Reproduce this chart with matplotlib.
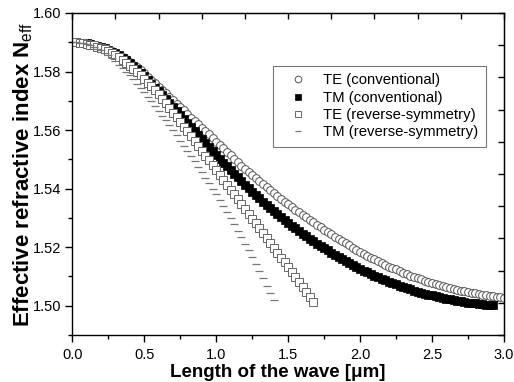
import numpy as np
import matplotlib
matplotlib.use("Agg")
import matplotlib.pyplot as plt
from matplotlib.ticker import MultipleLocator, FixedLocator, NullFormatter

plt.rcParams['font.family'] = ['Liberation Sans', 'DejaVu Sans']
plt.rcParams['mathtext.fontset'] = 'custom'
plt.rcParams['mathtext.rm'] = 'Liberation Sans'
plt.rcParams['mathtext.bf'] = 'Liberation Sans:bold'

x_step = 0.025

te_conv = [
    1.5900, 1.5900, 1.5899, 1.5898, 1.5896, 1.5894, 1.5891, 1.5888, 1.5885, 1.5880,
    1.5875, 1.5870, 1.5864, 1.5857, 1.5850, 1.5842, 1.5834, 1.5824, 1.5814, 1.5804,
    1.5794, 1.5783, 1.5771, 1.5760, 1.5748, 1.5737, 1.5725, 1.5714, 1.5702, 1.5690,
    1.5679, 1.5667, 1.5655, 1.5643, 1.5632, 1.5620, 1.5608, 1.5596, 1.5585, 1.5573,
    1.5561, 1.5549, 1.5538, 1.5526, 1.5514, 1.5502, 1.5491, 1.5479, 1.5468, 1.5457,
    1.5446, 1.5436, 1.5425, 1.5415, 1.5404, 1.5394, 1.5384, 1.5374, 1.5365, 1.5355,
    1.5346, 1.5337, 1.5328, 1.5319, 1.5310, 1.5302, 1.5293, 1.5285, 1.5276, 1.5268,
    1.5260, 1.5252, 1.5244, 1.5236, 1.5228, 1.5221, 1.5213, 1.5206, 1.5198, 1.5191,
    1.5184, 1.5177, 1.5171, 1.5164, 1.5158, 1.5152, 1.5146, 1.5140, 1.5134, 1.5129,
    1.5124, 1.5118, 1.5113, 1.5108, 1.5103, 1.5099, 1.5094, 1.5090, 1.5086, 1.5082,
    1.5078, 1.5074, 1.5071, 1.5067, 1.5064, 1.5061, 1.5058, 1.5055, 1.5052, 1.5049,
    1.5047, 1.5044, 1.5042, 1.5040, 1.5037, 1.5035, 1.5033, 1.5032, 1.5030, 1.5029,
    1.5028,
]

tm_conv = [
    1.5900, 1.5900, 1.5899, 1.5898, 1.5896, 1.5894, 1.5891, 1.5888, 1.5884, 1.5879,
    1.5874, 1.5868, 1.5862, 1.5855, 1.5847, 1.5839, 1.5830, 1.5819, 1.5808, 1.5796,
    1.5784, 1.5771, 1.5758, 1.5745, 1.5732, 1.5719, 1.5705, 1.5692, 1.5678, 1.5664,
    1.5651, 1.5637, 1.5623, 1.5609, 1.5596, 1.5582, 1.5568, 1.5555, 1.5541, 1.5528,
    1.5515, 1.5502, 1.5489, 1.5477, 1.5464, 1.5451, 1.5439, 1.5426, 1.5414, 1.5402,
    1.5390, 1.5379, 1.5367, 1.5356, 1.5345, 1.5334, 1.5323, 1.5313, 1.5303, 1.5293,
    1.5283, 1.5274, 1.5264, 1.5255, 1.5246, 1.5237, 1.5229, 1.5220, 1.5212, 1.5204,
    1.5196, 1.5189, 1.5181, 1.5174, 1.5166, 1.5159, 1.5152, 1.5145, 1.5139, 1.5132,
    1.5126, 1.5120, 1.5114, 1.5109, 1.5103, 1.5098, 1.5092, 1.5087, 1.5082, 1.5077,
    1.5073, 1.5068, 1.5064, 1.5060, 1.5056, 1.5052, 1.5048, 1.5045, 1.5041, 1.5038,
    1.5035, 1.5032, 1.5029, 1.5027, 1.5024, 1.5022, 1.5019, 1.5017, 1.5015, 1.5013,
    1.5011, 1.5010, 1.5008, 1.5006, 1.5005, 1.5003, 1.5002, 1.5001,
]

te_rev = [
    1.5900, 1.5900, 1.5899, 1.5897, 1.5895, 1.5892, 1.5889, 1.5885, 1.5881, 1.5876,
    1.5870, 1.5863, 1.5856, 1.5848, 1.5839, 1.5830, 1.5820, 1.5809, 1.5798, 1.5787,
    1.5775, 1.5762, 1.5749, 1.5736, 1.5722, 1.5707, 1.5691, 1.5676, 1.5660, 1.5644,
    1.5628, 1.5612, 1.5596, 1.5580, 1.5563, 1.5547, 1.5530, 1.5513, 1.5497, 1.5480,
    1.5463, 1.5447, 1.5430, 1.5414, 1.5397, 1.5380, 1.5364, 1.5347, 1.5330, 1.5314,
    1.5297, 1.5281, 1.5264, 1.5247, 1.5231, 1.5214, 1.5197, 1.5181, 1.5164, 1.5148,
    1.5131, 1.5114, 1.5098, 1.5081, 1.5064, 1.5047, 1.5031, 1.5014,
]

tm_rev = [
    1.5900, 1.5900, 1.5898, 1.5896, 1.5893, 1.5889, 1.5884, 1.5878, 1.5872, 1.5864,
    1.5855, 1.5846, 1.5836, 1.5824, 1.5812, 1.5800, 1.5787, 1.5773, 1.5759, 1.5744,
    1.5729, 1.5713, 1.5698, 1.5682, 1.5666, 1.5649, 1.5633, 1.5616, 1.5599, 1.5582,
    1.5564, 1.5547, 1.5529, 1.5511, 1.5493, 1.5474, 1.5456, 1.5437, 1.5418, 1.5399,
    1.5380, 1.5360, 1.5340, 1.5320, 1.5299, 1.5278, 1.5256, 1.5234, 1.5212, 1.5189,
    1.5165, 1.5142, 1.5118, 1.5094, 1.5069, 1.5045, 1.5020,
]

labels = ["TE (conventional)", "TM (conventional)",
          "TE (reverse-symmetry)", "TM (reverse-symmetry)"]


def xgrid(vals):
    return np.arange(len(vals)) * x_step


fig = plt.figure(figsize=(5.14, 3.82), dpi=100)
ax = fig.add_axes([0.1407, 0.1230, 0.8398, 0.8430])

ax.plot(xgrid(te_conv), te_conv, 'o', ms=5.6, mfc='white', mec='#555555', mew=0.7, label=labels[0])
ax.plot(xgrid(tm_conv), tm_conv, 's', ms=5.8, mfc='black', mec='black', mew=0.5, label=labels[1])
ax.plot(xgrid(te_rev), te_rev, 's', ms=5.3, mfc='white', mec='#666666', mew=0.7, label=labels[2])
ax.plot(xgrid(tm_rev), tm_rev, '_', ms=5.5, mec='#777777', mew=0.9, label=labels[3])

ax.set_xlim(0, 3.0)
ax.set_ylim(1.49, 1.60)
ax.xaxis.set_major_locator(MultipleLocator(0.5))
ax.xaxis.set_minor_locator(MultipleLocator(0.25))
ax.yaxis.set_major_locator(FixedLocator([1.50, 1.52, 1.54, 1.56, 1.58, 1.60]))
ax.yaxis.set_minor_locator(FixedLocator([1.49, 1.51, 1.53, 1.55, 1.57, 1.59]))
ax.xaxis.set_major_formatter(plt.FuncFormatter(lambda v, p: f"{v:.1f}"))
ax.yaxis.set_major_formatter(plt.FuncFormatter(lambda v, p: f"{v:.2f}"))
ax.tick_params(which='major', direction='out', length=5, width=1, labelsize=10.5, pad=3)
ax.tick_params(which='minor', direction='out', length=3, width=1)
ax.tick_params(axis='x', pad=4)
for s in ax.spines.values():
    s.set_linewidth(1.0)

# top and right axes carry their own ten equal divisions, pointing inward
top = ax.secondary_xaxis('top')
top.xaxis.set_major_locator(FixedLocator(np.linspace(0, 3.0, 11)))
top.xaxis.set_major_formatter(NullFormatter())
top.tick_params(direction='in', length=4, width=1)
right = ax.secondary_yaxis('right')
right.yaxis.set_major_locator(FixedLocator(np.linspace(1.49, 1.60, 11)))
right.yaxis.set_major_formatter(NullFormatter())
right.tick_params(direction='in', length=4, width=1)

ax.set_xlabel("Length of the wave [μm]", fontsize=13.5, fontweight='bold')
ax.xaxis.set_label_coords(0.475, -0.089)
ax.set_ylabel(r"Effective refractive index N$_{\mathrm{eff}}$", fontsize=16, fontweight='bold')
ax.yaxis.set_label_coords(-0.086, 0.5)

leg = ax.legend(loc='upper left', bbox_to_anchor=(0.4646, 0.8354), borderaxespad=0,
                fontsize=10.75, numpoints=1, handlelength=2.4, handletextpad=0.47,
                labelspacing=0.22, borderpad=0.5, fancybox=False, frameon=True,
                markerscale=0.85)
leg.get_frame().set_edgecolor('#555555')
leg.get_frame().set_linewidth(0.8)

fig.savefig("out.png", dpi=100)
